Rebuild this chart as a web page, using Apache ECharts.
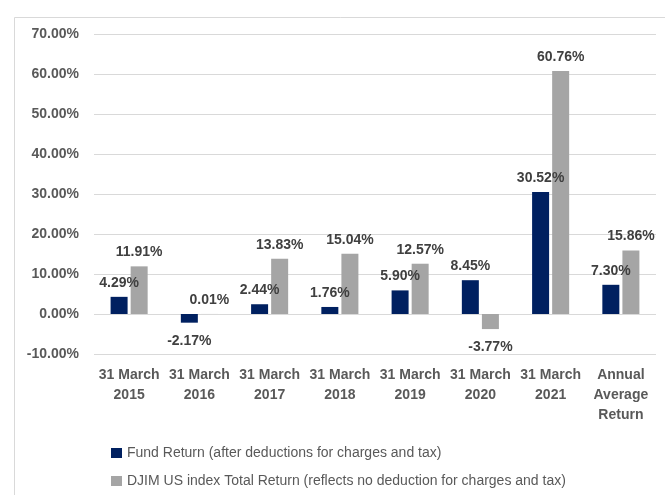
<!DOCTYPE html>
<html>
<head>
<meta charset="utf-8">
<title>Fund vs DJIM US index</title>
<script src="https://cdn.jsdelivr.net/npm/echarts@6/dist/echarts.min.js"></script>
<style>
  html, body { margin: 0; padding: 0; background: #fff; }
  #chart { width: 665px; height: 495px; }
</style>
</head>
<body>
<div id="chart"></div>
<script>
// categories on the x axis
const categories = [
  "31 March\n2015",
  "31 March\n2016",
  "31 March\n2017",
  "31 March\n2018",
  "31 March\n2019",
  "31 March\n2020",
  "31 March\n2021",
  "Annual\nAverage\nReturn",
];
// returns in percent
const fundReturn = [4.29, -2.17, 2.44, 1.76, 5.9, 8.45, 30.52, 7.3];
const indexReturn = [11.91, 0.01, 13.83, 15.04, 12.57, -3.77, 60.76, 15.86];
const seriesNames = [
  "Fund Return (after deductions for charges and tax)",
  "DJIM US index Total Return (reflects no deduction for charges and tax)",
];
// y axis range
const yMin = -10;
const yMax = 70;
const yStep = 10;

const FONT = "'Liberation Sans', Arial, sans-serif";

// negative bars get their label below the bar
function toItems(values) {
  return values.map((v) => ({
    value: v,
    label: v < 0 ? { position: "bottom", distance: 11 } : { position: "top", distance: 7 },
  }));
}

const labelStyle = {
  show: true,
  color: "#404040",
  fontFamily: FONT,
  fontSize: 14,
  fontWeight: "bold",
  formatter: (p) => p.value.toFixed(2) + "%",
};

const chart = echarts.init(document.getElementById("chart"));
chart.setOption({
  animation: false,
  backgroundColor: "#fff",
  graphic: [
    {
      // chart frame (only left and top edge visible)
      type: "rect",
      left: 12,
      top: 15,
      shape: { width: 700, height: 500 },
      style: { fill: "none", stroke: "#d9d9d9", lineWidth: 1 },
      silent: true,
    },
  ],
  grid: { left: 94, right: 9, top: 34, bottom: 141 },
  legend: {
    orient: "vertical",
    left: 106,
    top: 441,
    itemWidth: 11,
    itemHeight: 10,
    itemGap: 14,
    icon: "rect",
    textStyle: { color: "#595959", fontFamily: FONT, fontSize: 14 },
    data: seriesNames,
  },
  xAxis: {
    type: "category",
    data: categories,
    axisLine: { show: false, onZero: false },
    axisTick: { show: false },
    axisLabel: {
      color: "#595959",
      fontFamily: FONT,
      fontSize: 14,
      fontWeight: "bold",
      lineHeight: 20,
      margin: 11,
      interval: 0,
    },
  },
  yAxis: {
    type: "value",
    min: yMin,
    max: yMax,
    interval: yStep,
    axisLine: { show: false },
    axisTick: { show: false },
    splitLine: { lineStyle: { color: "#d9d9d9", width: 1 } },
    axisLabel: {
      color: "#595959",
      fontFamily: FONT,
      fontSize: 14,
      fontWeight: "bold",
      margin: 15,
      formatter: (v) => v.toFixed(2) + "%",
    },
  },
  series: [
    {
      name: seriesNames[0],
      type: "bar",
      data: toItems(fundReturn),
      barWidth: 17,
      barGap: "18%",
      itemStyle: { color: "#002060" },
      label: labelStyle,
    },
    {
      name: seriesNames[1],
      type: "bar",
      data: toItems(indexReturn),
      barWidth: 17,
      itemStyle: { color: "#a5a5a5" },
      label: labelStyle,
    },
  ],
});
</script>
</body>
</html>
